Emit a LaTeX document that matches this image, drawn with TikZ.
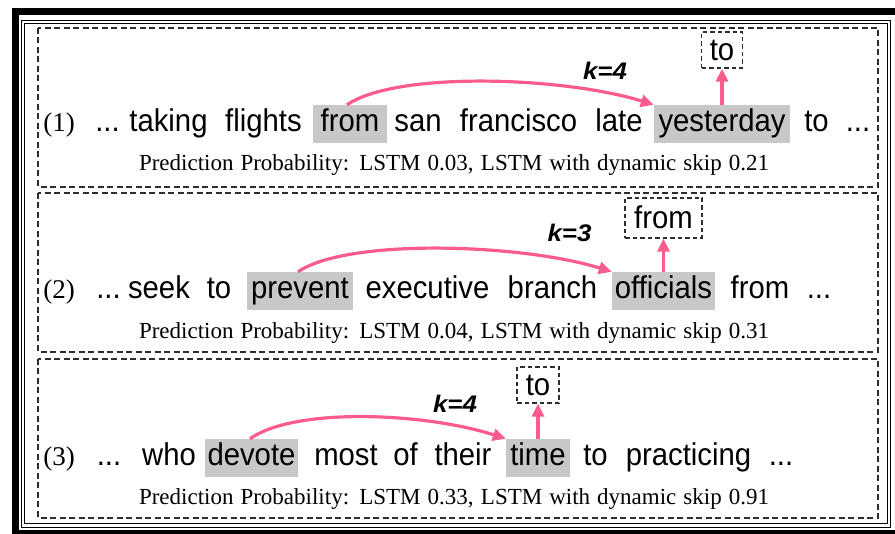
\documentclass[tikz,border=0pt]{standalone}
\usepackage{fontspec}
\setmainfont{Liberation Serif}
\newfontfamily\wordfont[FakeStretch=0.93]{Liberation Sans}
\newfontfamily\kfont[BoldItalicFeatures={FakeStretch=1.08}]{Liberation Sans}
\usetikzlibrary{arrows.meta}
\definecolor{skippink}{RGB}{252,92,140}
\definecolor{hlgray}{RGB}{200,200,200}
\definecolor{framegray}{RGB}{45,45,45}
\begin{document}
\begin{tikzpicture}[x=1pt,y=-1pt,
  word/.style={font=\wordfont\fontsize{31.5}{36}\selectfont, inner sep=0pt, anchor=base},
  hl/.style={word, fill=hlgray, text height=27pt, text depth=11pt},
  idx/.style={font=\fontsize{27}{30}\selectfont, inner sep=0pt, anchor=base},
  pred/.style={font=\fontsize{23}{26}\selectfont, inner sep=0pt, anchor=base},
  klabel/.style={font=\kfont\bfseries\itshape\fontsize{24}{28}\selectfont, inner sep=0pt, anchor=base},
  target/.style={word, draw=framegray, line width=1.2pt, dash pattern=on 4.5pt off 3pt,
                 text height=21pt, text depth=0pt, anchor=center},
  section/.style={draw=framegray, line width=1.1pt, dash pattern=on 6pt off 3.5pt},
  skip/.style={draw=skippink, line width=3.2pt, -{Triangle[length=13pt,width=12pt]}},
]
\useasboundingbox (0,0) rectangle (895,534);

% outer frame: heavy band and double rule
\draw[line width=7pt] (15,12) rectangle (899,534);
\draw[line width=0.8pt] (21,20.5) rectangle (890,527);
\draw[line width=0.8pt] (24,23.5) rectangle (887.5,523);

% the three example panels
\draw[section] (38,28) rectangle (878,187);
\draw[section] (38,193) rectangle (878,352);
\draw[section] (38,359) rectangle (878,518);

% ---------- example (1)
\node[idx]  (n1)   at (59,132)    {(1)};
\node[word] (d1a)  at (107.5,132) {...};
\node[word] (w1a)  at (168.5,132) {taking};
\node[word] (w1b)  at (263.5,132) {flights};
\node[hl, minimum width=74pt]  (from1) at (350,132) {from};
\node[word] (w1c)  at (418,132)   {san};
\node[word] (w1d)  at (518.5,132) {francisco};
\node[word] (w1e)  at (619,132)   {late};
\node[hl, minimum width=136pt] (yest1) at (722,132) {yesterday};
\node[word] (w1f)  at (816.5,132) {to};
\node[word] (d1b)  at (858,132)   {...};
\node[target, minimum width=41pt, minimum height=36pt] (to1) at (722,50) {to};
\node[klabel] (k1) at (605,80) {k=4};
\node[pred] (p1) at (454,171)
  {\makebox[630pt][s]{Prediction Probability: LSTM 0.03, LSTM with dynamic skip 0.21}};
\draw[skip] ([xshift=-3pt]from1.north) .. controls +(50,-34) and +(-90,-28) .. (yest1.north west);
\draw[skip] (yest1.north) -- (to1.south);

% ---------- example (2)
\node[idx]  (n2)   at (59,299)    {(2)};
\node[word] (d2a)  at (108.5,299) {...};
\node[word] (w2a)  at (159,299)   {seek};
\node[word] (w2b)  at (219,299)   {to};
\node[hl, minimum width=106pt] (prev2) at (300,299) {prevent};
\node[word] (w2c)  at (427.5,299) {executive};
\node[word] (w2d)  at (552.5,299) {branch};
\node[hl, minimum width=103pt] (offi2) at (663.5,299) {officials};
\node[word] (w2e)  at (760,299)   {from};
\node[word] (d2b)  at (819,299)   {...};
\node[target, minimum width=77pt, minimum height=40pt] (from2) at (663.5,218) {from};
\node[klabel] (k2) at (569.5,242) {k=3};
\node[pred] (p2) at (454,339)
  {\makebox[630pt][s]{Prediction Probability: LSTM 0.04, LSTM with dynamic skip 0.31}};
\draw[skip] ([xshift=-2pt]prev2.north) .. controls +(50,-34) and +(-90,-28) .. (offi2.north west);
\draw[skip] (offi2.north) -- (from2.south);

% ---------- example (3)
\node[idx]  (n3)   at (59,466)    {(3)};
\node[word] (d3a)  at (109,466)   {...};
\node[word] (w3a)  at (169,466)   {who};
\node[hl, minimum width=93pt]  (devo3) at (251.5,466) {devote};
\node[word] (w3b)  at (346,466)   {most};
\node[word] (w3c)  at (405.5,466) {of};
\node[word] (w3d)  at (463,466)   {their};
\node[hl, minimum width=64pt]  (time3) at (538,466) {time};
\node[word] (w3e)  at (595.5,466) {to};
\node[word] (w3f)  at (688.5,466) {practicing};
\node[word] (d3b)  at (781,466)   {...};
\node[target, minimum width=42pt, minimum height=36pt] (to3) at (538,385) {to};
\node[klabel] (k3) at (455,413) {k=4};
\node[pred] (p3) at (454,505)
  {\makebox[630pt][s]{Prediction Probability: LSTM 0.33, LSTM with dynamic skip 0.91}};
\draw[skip] ([xshift=-1.5pt]devo3.north) .. controls +(45,-32) and +(-80,-26) .. (time3.north west);
\draw[skip] (time3.north) -- (to3.south);
\end{tikzpicture}
\end{document}
